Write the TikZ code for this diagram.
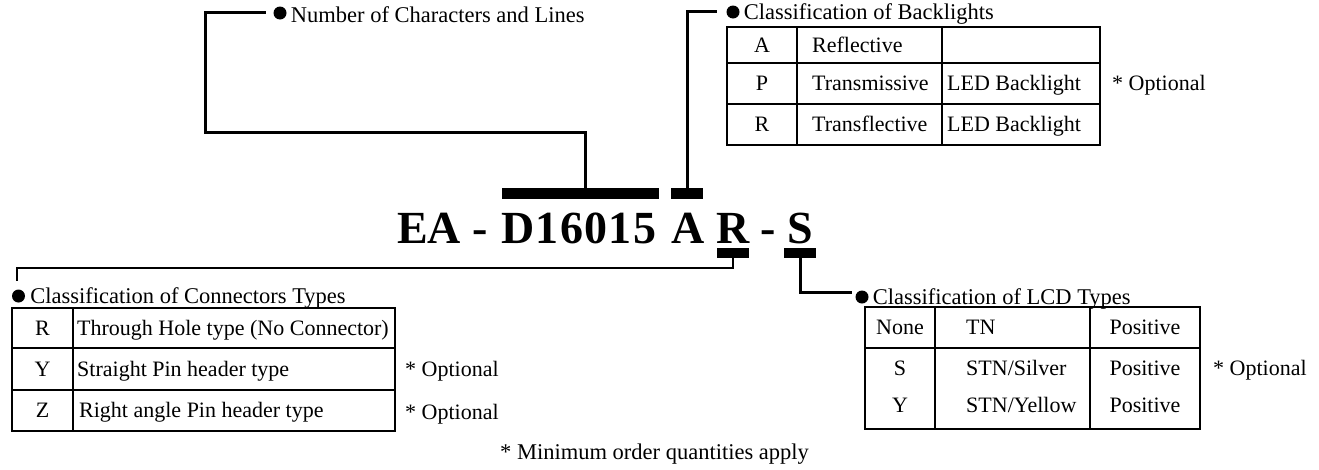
\documentclass[tikz,border=0pt]{standalone}
\usepackage{fontspec}
\setmainfont{Liberation Serif}
\usetikzlibrary{positioning}

\begin{document}
\begin{tikzpicture}[x=1pt,y=-1pt]
	\tikzstyle{partno} = [inner sep=0pt, anchor=base west, font=\fontsize{46}{50}\selectfont\bfseries]
	\tikzstyle{bar} = [rectangle, fill=black, inner sep=0pt, minimum height=11pt]
	\tikzstyle{dot} = [circle, fill=black, inner sep=0pt, minimum size=13pt]
	\tikzstyle{caption} = [inner sep=0pt, font=\fontsize{22.5}{26}\selectfont]
	\tikzstyle{cell} = [inner sep=0pt, anchor=mid, yshift=-4pt, font=\fontsize{22}{26}\selectfont]
	\tikzstyle{lcell} = [cell, anchor=mid west]
	\tikzstyle{link} = [line width=3pt]
	\tikzstyle{tabline} = [line width=1.6pt]
	\useasboundingbox (0,0) rectangle (1319,469);
	% part number
	\node (prefix) [partno] at (397,243) {EA};
	\node (dashA) [partno] at (472,243) {-};
	\node (model) [partno] at (501,243) {\addfontfeatures{LetterSpace=3}D16015};
	\node (backlight) [partno] at (671,243) {A};
	\node (connector) [partno] at (716,243) {R};
	\node (dashB) [partno] at (760,243) {-};
	\node (lcdtype) [partno] at (787,243) {S};
	\node (digitbar) [bar, minimum width=157pt] at (580.5,193.5) {};
	\node (blbar) [bar, minimum width=32pt] at (687,193.5) {};
	\node (connbar) [bar, minimum width=32pt, minimum height=10pt] at (733,253) {};
	\node (lcdbar) [bar, minimum width=32pt, minimum height=10pt] at (800,253) {};
	% captions
	\node (numdot) [dot] at (280,13) {};
	\node (numtext) [caption, right=4pt of numdot, yshift=-2pt] {Number of Characters and Lines};
	\node (bldot) [dot] at (733,12) {};
	\node (bltext) [caption, right=4pt of bldot, yshift=-2pt] {Classification of Backlights};
	\node (conndot) [dot] at (18.5,296) {};
	\node (conntext) [caption, right=5pt of conndot, yshift=-2pt] {Classification of Connectors Types};
	\node (lcddot) [dot] at (862,297) {};
	\node (lcdtext) [caption, right=4pt of lcddot, yshift=-2pt] {Classification of LCD Types};
	\coordinate (numknee) at (205,132);
	\coordinate (numend) at (266,12);
	\coordinate (blend) at (717,11);
	\coordinate (connknee) at (17,268);
	\coordinate (connend) at (17,281);
	\coordinate (lcdend) at (852,292);
	\draw [link] ([xshift=4.5pt]digitbar.north) |- (numknee) |- (numend);
	\draw [link] (blbar.north) |- (blend);
	\draw [link, line width=2.5pt] (connbar.south) |- (connknee) -- (connend);
	\draw [link] (lcdbar.south) |- (lcdend);
	% backlight table
	\draw [tabline] (727,27) rectangle (1100,145);
	\draw [tabline] (727,63) -- (1100,63);
	\draw [tabline] (727,104) -- (1100,104);
	\draw [tabline] (797,27) -- (797,145);
	\draw [tabline] (942,27) -- (942,145);
	\node (blA) [cell] at (762,46) {A};
	\node (blP) [cell] at (762,84.5) {P};
	\node (blR) [cell] at (762,125.5) {R};
	\node (blreflective) [lcell] at (812,46) {Reflective};
	\node (bltransmissive) [lcell] at (812,84.5) {Transmissive};
	\node (bltransflective) [lcell] at (812,125.5) {Transflective};
	\node (blledP) [lcell] at (947,84.5) {LED Backlight};
	\node (blledR) [lcell] at (947,125.5) {LED Backlight};
	\node (bloptional) [lcell] at (1112,84.5) {* Optional};
	% connector table
	\draw [tabline] (12,308) rectangle (395,431);
	\draw [tabline] (12,348) -- (395,348);
	\draw [tabline] (12,390) -- (395,390);
	\draw [tabline] (73,308) -- (73,431);
	\node (connR) [cell] at (42.5,329) {R};
	\node (connY) [cell] at (42.5,370) {Y};
	\node (connZ) [cell] at (42.5,411.5) {Z};
	\node (throughhole) [lcell] at (77,329) {Through Hole type (No Connector)};
	\node (straightpin) [lcell] at (77,370) {Straight Pin header type};
	\node (rightangle) [lcell] at (79,411.5) {Right angle Pin header type};
	\node (connoptY) [lcell] at (405,370) {* Optional};
	\node (connoptZ) [lcell] at (405,413) {* Optional};
	% lcd table
	\draw [tabline] (865,307) rectangle (1200,429);
	\draw [tabline] (865,348) -- (1200,348);
	\draw [tabline] (935,307) -- (935,429);
	\draw [tabline] (1090,307) -- (1090,429);
	\node (lcdnone) [cell] at (900,328.5) {None};
	\node (lcdS) [cell] at (900,369) {S};
	\node (lcdY) [cell] at (900,406) {Y};
	\node (lcdtn) [lcell] at (966,328.5) {TN};
	\node (lcdsilver) [lcell] at (966,369) {STN/Silver};
	\node (lcdyellow) [lcell] at (966,406) {STN/Yellow};
	\node (posnone) [cell] at (1145,328.5) {Positive};
	\node (posS) [cell] at (1145,369) {Positive};
	\node (posY) [cell] at (1145,406) {Positive};
	\node (lcdoptional) [lcell] at (1213,369) {* Optional};
	% footnote
	\node (minorder) [caption, anchor=base west] at (500,459) {* Minimum order quantities apply};
\end{tikzpicture}
\end{document}
